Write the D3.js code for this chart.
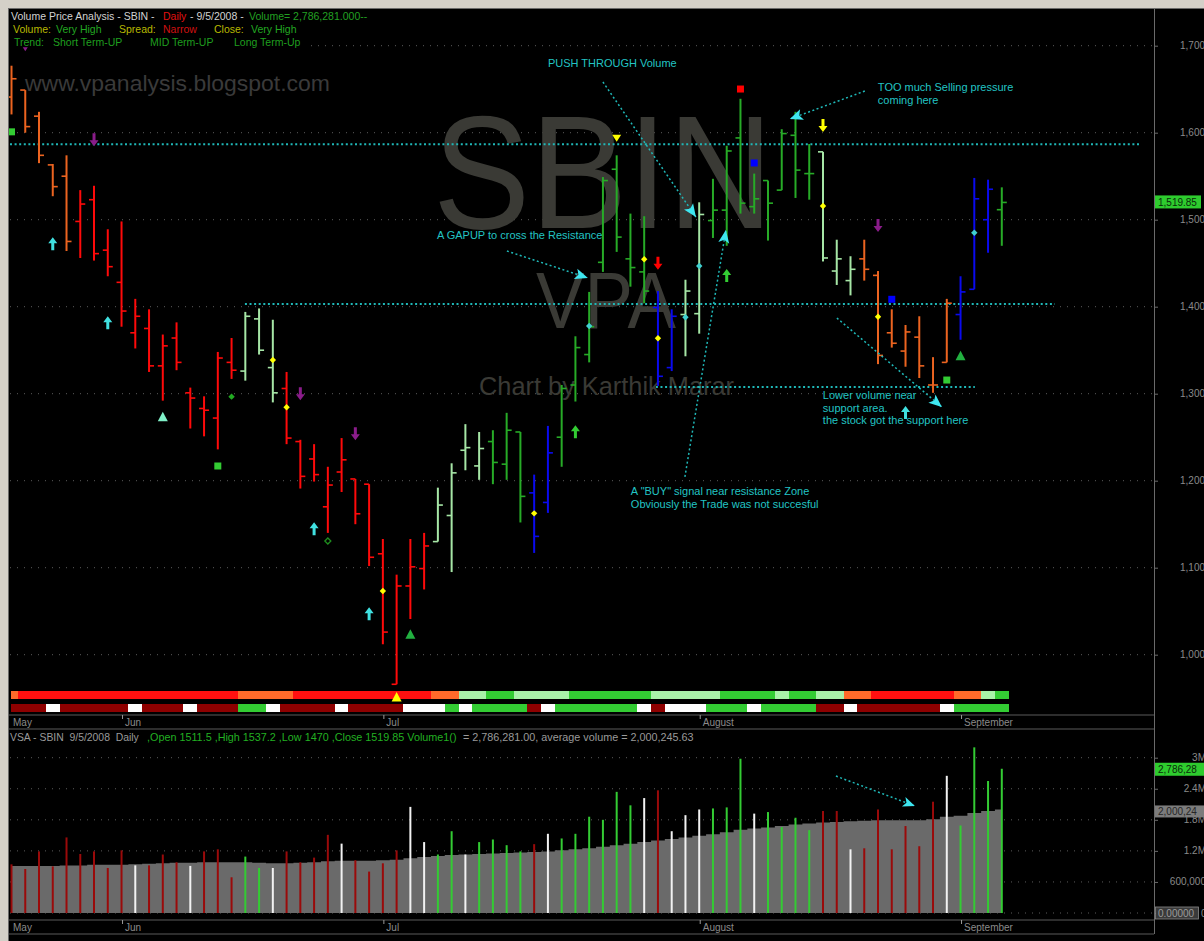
<!DOCTYPE html>
<html><head><meta charset="utf-8">
<script src="https://cdn.jsdelivr.net/npm/d3@7"></script>
<style>
html,body{margin:0;padding:0;background:#000;overflow:hidden}
svg{display:block}
text{font-family:"Liberation Sans",Arial,sans-serif}
</style></head><body>
<svg id="c" width="1204" height="941"></svg>
<script>
// ---------------- DATA ----------------
const opens  = [1641,1649,1619,1563,1550,1498,1523,1465,1428,1370,1375,1332,1364,1301,1283,1272,1336,1326,1386,1330,1306,1245,1225,1170,1210,1202,1196,1116,966,1079,1099,1130,1160,1235,1217,1245,1219,1256,1186,1175,1250,1310,1345,1451,1558,1455,1440,1399,1330,1391,1392,1499,1511,1594,1515,1545,1534,1597,1553,1578,1441,1430,1455,1436,1370,1349,1365,1310,1336,1391,1420,1500,1511.5];
const highs  = [1677,1649,1624,1564,1574,1534,1539,1489,1498,1409,1397,1368,1382,1307,1297,1348,1364,1394,1398,1385,1325,1247,1242,1216,1249,1202,1196,1133,1092,1133,1140,1192,1220,1265,1256,1258,1278,1256,1207,1263,1310,1366,1417,1549,1574,1507,1504,1418,1397,1431,1520,1547,1585,1639,1553,1545,1604,1624,1587,1578,1477,1458,1477,1441,1397,1379,1389,1342,1409,1435,1548,1546,1537.2];
const lows   = [1621,1600,1565,1527,1464,1456,1453,1435,1377,1352,1325,1292,1327,1260,1251,1236,1317,1315,1345,1290,1242,1191,1199,1140,1187,1150,1102,1012,966,1041,1075,1130,1095,1212,1201,1196,1201,1152,1117,1163,1216,1291,1336,1440,1463,1423,1404,1309,1326,1343,1369,1479,1470,1507,1507,1476,1534,1525,1523,1452,1425,1413,1430,1334,1353,1331,1318,1301,1336,1362,1420,1462,1470];
const closes = [1662,1607,1574,1538,1475,1518,1461,1446,1395,1389,1332,1355,1336,1295,1281,1341,1327,1389,1350,1301,1249,1205,1207,1195,1224,1162,1112,1026,1079,1101,1125,1172,1209,1238,1237,1221,1258,1182,1136,1232,1306,1353,1377,1545,1480,1445,1418,1320,1389,1418,1506,1511,1579,1519,1524,1519,1599,1557,1553,1456,1455,1443,1443,1344,1358,1371,1332,1310,1404,1417,1524,1535,1519.85];
// bar colour classes: O orange, R red, L light green, G green, B blue
const barClass = ("OOOOO"+"RRRRRRRRRRRR"+"LLL"+"RRRRRRRRRRR"+"LLLL"+"GGG"+"BB"+"GGGGGGG"+"BB"+"LL"+"GGGGGGGG"+"LLL"+"OOOOOOO"+"BBB"+"G").split("");
const trendStrip = ("O"+"RRRRRRRRRRRRRRRR"+"OOOO"+"RRRRRRRRRR"+"OO"+"LL"+"GG"+"LLLL"+"GGGGGG"+"LLLLL"+"GGGG"+"L"+"GG"+"LL"+"OO"+"RRRRRR"+"OO"+"L"+"G").split("");
const volStrip = ("DDD"+"W"+"DDDDD"+"W"+"DDD"+"W"+"DDD"+"GG"+"W"+"DDDD"+"W"+"DDDD"+"WWW"+"G"+"W"+"GGGG"+"D"+"W"+"GGGGGG"+"W"+"D"+"WWW"+"GGG"+"W"+"GGGG"+"DD"+"W"+"DDDDDD"+"W"+"GGGG").split("");
const volumes = [0.94,0.85,1.19,0.90,1.46,1.14,1.19,0.87,1.21,0.92,0.92,1.13,0.98,0.91,1.19,1.23,0.69,1.09,0.87,0.87,1.19,0.98,1.07,1.51,1.34,1.02,0.80,0.96,1.21,2.05,1.37,1.13,1.58,1.13,1.37,1.42,1.31,1.19,1.33,1.53,1.44,1.53,1.86,1.80,2.34,2.08,2.22,2.37,1.58,1.89,2.00,2.02,2.04,2.98,1.92,1.95,1.66,1.84,1.60,1.97,1.97,1.23,1.25,2.00,1.23,1.68,1.29,2.15,2.65,1.69,3.20,2.55,2.786281];
const volClass = ("RRRRRRRRR"+"W"+"RRR"+"W"+"RRR"+"GG"+"W"+"RRRR"+"W"+"RRRR"+"WW"+"GG"+"W"+"GGGG"+"R"+"W"+"GGGGGG"+"W"+"R"+"WWW"+"GGG"+"W"+"GGGG"+"RR"+"W"+"RRRRRR"+"W"+"GGGG").split("");
const avgVolume = [0.91,0.91,0.91,0.91,0.92,0.92,0.93,0.93,0.93,0.94,0.95,0.96,0.97,0.97,0.98,0.98,0.98,0.98,0.97,0.96,0.96,0.97,0.98,1.00,1.01,1.01,1.01,1.02,1.03,1.06,1.08,1.10,1.12,1.13,1.14,1.15,1.16,1.17,1.18,1.19,1.21,1.23,1.25,1.28,1.31,1.34,1.37,1.40,1.43,1.46,1.49,1.52,1.56,1.61,1.63,1.65,1.68,1.71,1.73,1.75,1.76,1.77,1.78,1.79,1.79,1.79,1.79,1.81,1.86,1.88,1.93,1.97,2.000245];
const monthLabels = ["Jun","Jul","August","September"];
const monthIdx = [8,27,50,69];
const priceTicks = [1000,1100,1200,1300,1400,1500,1600,1700];
const volTicks = [600000,1200000,1800000,2400000,3000000];
const volTickLabels = ["600,000","1.2M","1.8M","2.4M","3M"];
// signal markers
const markerIdx   = [1,0,6,3,7,11,15,16,19,20,21,25,22,23,27,26,29,28,38,41,42,44,46,47,47,49,50,52,53,54,59,59,63,63,64,65,68,69,70];
const markerPrice = [1695.9,1601,1592.4,1471.7,1381,1273.6,1216.9,1296.6,1338.7,1284.4,1300.5,1254.5,1144.1,1130.7,1073.2,1046.4,1023.4,951.4,1162.5,1255.6,1377.8,1593.5,1454.5,1450.6,1363.7,1387.8,1446.8,1435.3,1650.2,1565.2,1608.8,1515.7,1493.9,1388.5,1408.5,1277.8,1315.7,1343.7,1485];
const markerType  = ['smalldown','square','down','up','up','tri','square','diamond','diamond','diamond','down','down','up','hollow','diamond','up','tri','tri','diamond','up','diamond','tridown','diamond','down','diamond','diamond','diamond','up','square','square','down','diamond','down','diamond','square','up','square','tri','diamond'];
const markerColor = ['#8a1c8a','#33cc33','#8a1c8a','#40e0e0','#40e0e0','#80f0c8','#33cc33','#22aa22','#ffff00','#ffff00','#8a1c8a','#8a1c8a','#40e0e0','#1e8e1e','#ffff00','#40e0e0','#22b040','#ffff00','#ffff00','#33cc33','#40d0d0','#ffff00','#ffff00','#ff0000','#ffff00','#40d0d0','#40d0d0','#33cc33','#ff0000','#0000ff','#ffff00','#ffff00','#8a1c8a','#ffff00','#0000ff','#40e0e0','#33cc33','#22b040','#40d0d0'];
// horizontal support / resistance lines
const levelPrice = [1586.8,1403,1307.7];
const levelFrom  = [-0.11,16.97,46.85];
const levelTo    = [82.04,75.86,70.04];
// annotations
const annoFromIdx = [36.02,43.0,62.04,48.96,60.01];
const annoFromP   = [1464.0,1658.3,1647.9,1204.3,1387.0];
const annoToIdx   = [41.91,49.76,56.59,51.94,67.64];
const annoToP     = [1433.0,1503.1,1615.7,1488.2,1284.7];
const annoText = [["A GAPUP to cross the Resistance"],["PUSH THROUGH Volume"],["TOO much Selling pressure","coming here"],['A "BUY" signal near resistance Zone','Obviously the Trade was not succesful'],["Lower volume near","support area.","the stock got the support  here"]];
const annoTextIdx = [30.93,39.0,62.99,45.03,58.99];
const annoTextP   = [1477.8,1675.5,1648.0,1183.6,1293.9];
const volAnnoFrom = [59.94,2.646];
const volAnnoTo   = [65.68,2.067];

// ---------------- LAYOUT ----------------
const svg = d3.select('#c');
const L = 8, R = 1154, PT = 8, PB = 715, VT = 729, VB = 920, DB = 934;
const x  = d3.scaleLinear().domain([0,72]).range([11.5,1001.8]);
const step = x(1)-x(0);
const y  = d3.scaleLinear().domain([1000,1700]).range([654.7,45.7]);
const yv = d3.scaleLinear().domain([0,3e6]).range([913,757.7]);
const idx = d3.range(opens.length);

const barCol = {O:'#ec6420',R:'#ff0a0a',L:'#a6e6a6',G:'#27ab27',B:'#0a0aee'};
const trendCol = {O:'#ff6a2a',R:'#ff1010',L:'#a8f2a8',G:'#33cc33'};
const vstripCol = {D:'#8e0000',W:'#ffffff',G:'#33cc33'};
const volCol = {R:'#9a0a0a',W:'#f2f2f2',G:'#33cc33'};
const cyan = '#1fb8b8';
const wmFont = '"DejaVu Sans",Verdana,sans-serif';

// background frame
svg.append('rect').attr('width',1204).attr('height',941).attr('fill','#d4d0c8');
svg.append('rect').attr('x',L).attr('y',PT).attr('width',1204-L).attr('height',941-PT).attr('fill','#000');

const defs = svg.append('defs');
defs.append('clipPath').attr('id','pc').append('rect').attr('x',L).attr('y',PT).attr('width',R-L).attr('height',PB-PT);
defs.append('clipPath').attr('id','vc').append('rect').attr('x',L).attr('y',VT).attr('width',R-L).attr('height',VB-VT);

// ---------------- PRICE PANEL ----------------
const pg = svg.append('g').attr('clip-path','url(#pc)');
// grid
pg.selectAll('line.grid').data(priceTicks).join('line')
  .attr('x1',L+2).attr('x2',R).attr('y1',d=>y(d)).attr('y2',d=>y(d))
  .attr('stroke','#5c5c5c').attr('stroke-width',1).attr('stroke-dasharray','1,6');
// header backing (title area hides grid)
pg.append('rect').attr('x',L+1).attr('y',PT+1).attr('width',300).attr('height',40).attr('fill','#000');
// watermarks
pg.append('text').attr('x',25).attr('y',91).attr('font-size',22).attr('fill','#3a3a3a').attr('font-family',wmFont)
  .attr('textLength',305).attr('lengthAdjust','spacingAndGlyphs').text('www.vpanalysis.blogspot.com');
pg.append('text').attr('x',433).attr('y',228).attr('font-size',162).attr('fill','#3a3a35').attr('font-family',wmFont)
  .attr('textLength',340).attr('lengthAdjust','spacingAndGlyphs').text('SBIN');
pg.append('text').attr('x',536).attr('y',328).attr('font-size',80).attr('fill','#3a3a35').attr('font-family',wmFont)
  .attr('textLength',140).attr('lengthAdjust','spacingAndGlyphs').text('VPA');
pg.append('text').attr('x',479).attr('y',395).attr('font-size',25).attr('fill','#3a3a35').attr('font-family',wmFont)
  .attr('textLength',255).attr('lengthAdjust','spacingAndGlyphs').text('Chart by Karthik Marar');
// support/resistance levels
pg.selectAll('line.lvl').data(levelPrice).join('line')
  .attr('x1',(d,i)=>x(levelFrom[i])).attr('x2',(d,i)=>x(levelTo[i]))
  .attr('y1',d=>y(d)).attr('y2',d=>y(d))
  .attr('stroke',cyan).attr('stroke-width',2).attr('stroke-dasharray','2,2.6');
// OHLC bars
const bars = pg.append('g');
bars.selectAll('line.hl').data(idx).join('line')
  .attr('x1',i=>x(i)).attr('x2',i=>x(i)).attr('y1',i=>y(highs[i])).attr('y2',i=>y(lows[i]))
  .attr('stroke',i=>barCol[barClass[i]]).attr('stroke-width',2);
bars.selectAll('line.op').data(idx).join('line')
  .attr('x1',i=>x(i)-5).attr('x2',i=>x(i)).attr('y1',i=>y(opens[i])).attr('y2',i=>y(opens[i]))
  .attr('stroke',i=>barCol[barClass[i]]).attr('stroke-width',1.6);
bars.selectAll('line.cl').data(idx).join('line')
  .attr('x1',i=>x(i)).attr('x2',i=>x(i)+5).attr('y1',i=>y(closes[i])).attr('y2',i=>y(closes[i]))
  .attr('stroke',i=>barCol[barClass[i]]).attr('stroke-width',1.6);
// indicator strips
const cellX = i=>Math.max(10.5,x(i)-step/2);
pg.selectAll('rect.ts').data(idx).join('rect').attr('shape-rendering','crispEdges')
  .attr('x',cellX).attr('width',i=>x(i)+step/2-cellX(i)+0.6)
  .attr('y',691).attr('height',8).attr('fill',i=>trendCol[trendStrip[i]]);
pg.selectAll('rect.vs').data(idx).join('rect').attr('shape-rendering','crispEdges')
  .attr('x',cellX).attr('width',i=>x(i)+step/2-cellX(i)+0.6)
  .attr('y',703.5).attr('height',8.5).attr('fill',i=>vstripCol[volStrip[i]]);
// markers
function markerPath(t,cx,cy){
  switch(t){
    case 'up': return `M${cx},${cy-7}L${cx+4.5},${cy-1}L${cx+1.5},${cy-1}L${cx+1.5},${cy+6}L${cx-1.5},${cy+6}L${cx-1.5},${cy-1}L${cx-4.5},${cy-1}Z`;
    case 'down': return `M${cx},${cy+7}L${cx+4.5},${cy+1}L${cx+1.5},${cy+1}L${cx+1.5},${cy-6}L${cx-1.5},${cy-6}L${cx-1.5},${cy+1}L${cx-4.5},${cy+1}Z`;
    case 'square': return `M${cx-3.5},${cy-3.5}h7v7h-7Z`;
    case 'diamond': return `M${cx},${cy-3.2}L${cx+3.2},${cy}L${cx},${cy+3.2}L${cx-3.2},${cy}Z`;
    case 'hollow': return `M${cx},${cy-3}L${cx+3},${cy}L${cx},${cy+3}L${cx-3},${cy}Z`;
    case 'tri': return `M${cx},${cy-5}L${cx+5},${cy+4.5}L${cx-5},${cy+4.5}Z`;
    case 'tridown': return `M${cx-4.5},${cy-3.5}L${cx+4.5},${cy-3.5}L${cx},${cy+3.5}Z`;
    case 'smalldown': return `M${cx-2.5},${cy-2}L${cx+2.5},${cy-2}L${cx},${cy+2}Z`;
  }
}
const mg = svg.append('g').attr('clip-path','url(#pc)');
mg.selectAll('path.mk').data(markerIdx).join('path')
  .attr('d',(d,i)=>markerPath(markerType[i],x(d),y(markerPrice[i])))
  .attr('fill',(d,i)=>markerType[i]==='hollow'?'none':markerColor[i])
  .attr('stroke',(d,i)=>markerType[i]==='hollow'?markerColor[i]:'none')
  .attr('stroke-width',1.3);
// annotations
function arrowHead(g,x1,y1,x2,y2,len,hw){
  const a = Math.atan2(y2-y1,x2-x1), c=Math.cos(a), s=Math.sin(a);
  const bx = x2 - c*len, by = y2 - s*len;
  g.append('path').attr('d',`M${x2},${y2}L${bx - s*hw},${by + c*hw}L${bx + c*3},${by + s*3}L${bx + s*hw},${by - c*hw}Z`)
    .attr('fill','#3ee6f0');
}
const ag = svg.append('g').attr('clip-path','url(#pc)');
annoFromIdx.forEach((d,i)=>{
  const x1=x(d), y1=y(annoFromP[i]), x2=x(annoToIdx[i]), y2=y(annoToP[i]);
  ag.append('line').attr('x1',x1).attr('y1',y1).attr('x2',x2).attr('y2',y2)
    .attr('stroke',cyan).attr('stroke-width',1.5).attr('stroke-dasharray','2,2.5');
  arrowHead(ag,x1,y1,x2,y2,13,5.5);
  const t = ag.append('text').attr('x',x(annoTextIdx[i])).attr('y',y(annoTextP[i]))
    .attr('font-size',11).attr('fill','#22c4c4');
  annoText[i].forEach((s,k)=>t.append('tspan').attr('x',x(annoTextIdx[i])).attr('dy',k===0?0:12.6).text(s));
});

// header text
const hd = svg.append('g').attr('font-size',10.5);
function seg(g,xx,yy,txt,col){ return g.append('text').attr('x',xx).attr('y',yy).attr('fill',col).style('white-space','pre').text(txt); }
seg(hd,11,20,'Volume Price Analysis - SBIN -','#d2d2d2');
seg(hd,163,20,'Daily','#e01010');
seg(hd,190,20,'- 9/5/2008 -','#d2d2d2');
seg(hd,249,20,'Volume= 2,786,281.000--','#22a022');
seg(hd,13,33,'Volume:','#b8b800');
seg(hd,56,33,'Very High','#22a822');
seg(hd,119,33,'Spread:','#b8b800');
seg(hd,163,33,'Narrow','#d01010');
seg(hd,214,33,'Close:','#b8b800');
seg(hd,251,33,'Very High','#22a822');
seg(hd,14,46,'Trend:','#1f9f1f');
seg(hd,53,46,'Short Term-UP','#1f9f1f');
seg(hd,150,46,'MID Term-UP','#1f9f1f');
seg(hd,234,46,'Long Term-Up','#1f9f1f');

// price axis
const pax = svg.append('g').attr('transform',`translate(${R},0)`)
  .call(d3.axisRight(y).tickValues(priceTicks).tickFormat(d3.format(',')).tickSize(4).tickPadding(22));
pax.select('.domain').remove();
pax.selectAll('line').attr('stroke','#6a6a6a');
pax.selectAll('text').attr('fill','#8a8a8a').attr('font-size',10).attr('font-family','"Liberation Sans",Arial,sans-serif');
// last price label
const lp = closes[closes.length-1];
svg.append('rect').attr('x',R+1).attr('y',y(lp)-7).attr('width',46).attr('height',13).attr('fill','#2ecc2e');
svg.append('text').attr('x',R+4).attr('y',y(lp)+3.5).attr('font-size',10).attr('fill','#0a2a0a').text(d3.format(',.2f')(lp));

// ---------------- DATE AXES ----------------
function dateAxis(top,bot){
  const g = svg.append('g');
  g.append('line').attr('x1',L).attr('x2',R).attr('y1',top).attr('y2',top).attr('stroke','#5a5a5a');
  g.append('line').attr('x1',L).attr('x2',R).attr('y1',bot).attr('y2',bot).attr('stroke','#5a5a5a');
  g.append('text').attr('x',13).attr('y',top+10.5).attr('font-size',10).attr('fill','#8a8a8a').text('May');
  const ax = g.append('g').attr('transform',`translate(0,${top})`)
    .call(d3.axisBottom(x).tickValues(monthIdx).tickFormat((d,i)=>monthLabels[i]).tickSize(4).tickPadding(0));
  ax.select('.domain').remove();
  ax.selectAll('line').attr('stroke','#9a9a9a').attr('transform','translate(0.5,0)');
  ax.selectAll('text').attr('fill','#8a8a8a').attr('font-size',10).attr('text-anchor','start')
    .attr('dx',3).attr('dy',0).attr('y',10.5).attr('dominant-baseline','auto')
    .attr('font-family','"Liberation Sans",Arial,sans-serif');
}
dateAxis(PB,VT);
dateAxis(VB,DB);

// ---------------- VOLUME PANEL ----------------
const vg = svg.append('g').attr('clip-path','url(#vc)');
vg.selectAll('line.vgrid').data(volTicks).join('line')
  .attr('x1',L+2).attr('x2',R).attr('y1',d=>yv(d)).attr('y2',d=>yv(d))
  .attr('stroke','#5c5c5c').attr('stroke-dasharray','1,6');
vg.append('line').attr('x1',L+2).attr('x2',R).attr('y1',yv(0)).attr('y2',yv(0))
  .attr('stroke','#5c5c5c').attr('stroke-dasharray','1,6');
vg.append('path').datum(idx)
  .attr('d',d3.area().x(i=>x(i)).y0(yv(0)).y1(i=>yv(avgVolume[i]*1e6)).curve(d3.curveStep))
  .attr('fill','#6a6a6a');
vg.selectAll('line.vb').data(idx).join('line')
  .attr('x1',i=>x(i)).attr('x2',i=>x(i)).attr('y1',yv(0)).attr('y2',i=>yv(volumes[i]*1e6))
  .attr('stroke',i=>volCol[volClass[i]]).attr('stroke-width',2);
{
  const x1=x(volAnnoFrom[0]), y1=yv(volAnnoFrom[1]*1e6), x2=x(volAnnoTo[0]), y2=yv(volAnnoTo[1]*1e6);
  vg.append('line').attr('x1',x1).attr('y1',y1).attr('x2',x2).attr('y2',y2)
    .attr('stroke',cyan).attr('stroke-width',1.5).attr('stroke-dasharray','2,2.5');
  arrowHead(vg,x1,y1,x2,y2,12,5);
}
const vh = svg.append('g').attr('font-size',10.8);
seg(vh,10,741,'VSA - SBIN  9/5/2008  Daily','#9a9a9a').attr('font-size',10.4);
seg(vh,147,741,',Open 1511.5 ,High 1537.2 ,Low 1470 ,Close 1519.85 Volume1()','#22b022');
seg(vh,463,741,'= 2,786,281.00, average volume = 2,000,245.63','#9a9a9a');

// volume axis
const vax = svg.append('g').attr('transform',`translate(${R},0)`)
  .call(d3.axisRight(yv).tickValues(volTicks.concat([0])).tickFormat(()=>'').tickSize(4));
vax.select('.domain').remove();
vax.selectAll('line').attr('stroke','#6a6a6a');
svg.selectAll('text.vlab').data(volTicks).join('text')
  .attr('x',1206).attr('y',d=>yv(d)+3.5).attr('text-anchor','end')
  .attr('font-size',10).attr('fill','#8a8a8a').text((d,i)=>volTickLabels[i]);
// value boxes
const lastVol = volumes[volumes.length-1]*1e6, lastAvg = avgVolume[avgVolume.length-1]*1e6;
svg.append('rect').attr('x',R+1).attr('y',yv(lastVol)-6).attr('width',50).attr('height',13).attr('fill','#2ecc2e');
svg.append('text').attr('x',R+4).attr('y',yv(lastVol)+4).attr('font-size',10).attr('fill','#0a2a0a').text(d3.format(',.0f')(lastVol).slice(0,8));
svg.append('rect').attr('x',R+1).attr('y',yv(lastAvg)-4).attr('width',50).attr('height',12).attr('fill','#7c7c7c');
svg.append('text').attr('x',R+4).attr('y',yv(lastAvg)+6).attr('font-size',10).attr('fill','#262626').text(d3.format(',.0f')(lastAvg).slice(0,8));
svg.append('rect').attr('x',R+1.5).attr('y',yv(0)-6).attr('width',43).attr('height',12).attr('fill','#3a3a3a').attr('stroke','#8a8a8a').attr('stroke-width',0.8);
svg.append('text').attr('x',R+4).attr('y',yv(0)+3.5).attr('font-size',10).attr('fill','#9a9a9a').text('0.00000');
svg.append('text').attr('x',R+47).attr('y',yv(0)+3.5).attr('font-size',10).attr('fill','#8a8a8a').text('0');

// borders
svg.append('line').attr('x1',R+0.5).attr('x2',R+0.5).attr('y1',PT).attr('y2',DB).attr('stroke','#6a6a6a');
svg.append('line').attr('x1',L).attr('x2',1204).attr('y1',PT+0.5).attr('y2',PT+0.5).attr('stroke','#6a6a6a');
svg.append('line').attr('x1',L+0.5).attr('x2',L+0.5).attr('y1',PT).attr('y2',941).attr('stroke','#6a6a6a');
</script>
</body></html>
